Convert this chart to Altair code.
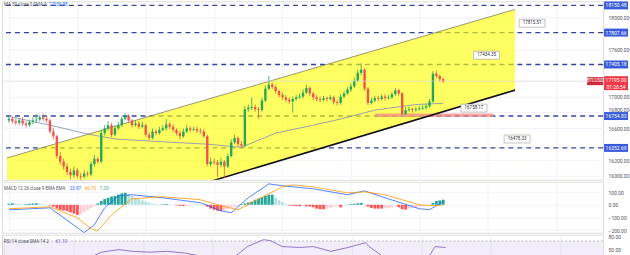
import altair as alt
import pandas as pd
import numpy as np

# ---------------- candles ----------------
opens = [16700,16720,16690,16670,16700,16660,16640,16680,16700,16710,
         16740,16720,16700,16560,16500,16250,16180,16120,16050,16010,
         16070,16000,15990,16030,16020,16150,16215,16180,16540,16600,
         16640,16520,16600,16640,16720,16760,16700,16640,16660,16620,
         16640,16520,16480,16560,16540,16580,16600,16650,16620,16580,
         16540,16500,16560,16600,16580,16590,16570,16560,16500,16150,
         16180,16170,16140,16180,16120,16250,16420,16480,16400,16380,
         16840,16860,16870,16840,16830,16950,17100,17150,17120,17070,
         17020,16990,16960,16940,16970,16990,17000,17050,17110,17040,
         16990,16970,16960,16980,16970,16990,16930,16920,17000,17040,
         17090,17130,17200,17300,17340,17100,16920,16950,16980,16970,
         17000,16980,16990,17030,17080,17040,16780,16830,16840,16830,
         16840,16850,16860,16880,16940,17290,17260,17220]
closes = [16720,16690,16670,16700,16660,16640,16680,16700,16710,16740,
          16720,16700,16560,16500,16250,16180,16120,16050,16010,16070,
          16000,15990,16030,16020,16150,16215,16180,16540,16600,16640,
          16520,16600,16640,16720,16760,16700,16640,16660,16620,16640,
          16520,16480,16560,16540,16580,16600,16650,16620,16580,16540,
          16500,16560,16600,16580,16590,16570,16560,16500,16150,16180,
          16170,16140,16180,16120,16250,16420,16480,16400,16380,16840,
          16860,16870,16840,16830,16950,17100,17150,17120,17070,17020,
          16990,16960,16940,16970,16990,17000,17050,17110,17040,16990,
          16970,16960,16980,16970,16990,16930,16920,17000,17040,17090,
          17130,17200,17300,17340,17100,16920,16950,16980,16970,17000,
          16980,16990,17030,17080,17040,16780,16830,16840,16830,16840,
          16850,16860,16880,16940,17290,17260,17220,17195]
highs = [16760,16750,16720,16730,16740,16690,16710,16740,16780,16770,
         16780,16750,16720,16600,16520,16300,16220,16160,16090,16120,
         16100,16040,16070,16060,16180,16260,16240,16580,16640,16690,
         16670,16640,16680,16750,16790,16780,16720,16700,16690,16680,
         16660,16550,16600,16590,16620,16640,16720,16680,16650,16600,
         16570,16600,16640,16630,16620,16620,16600,16590,16520,16230,
         16220,16200,16230,16200,16280,16460,16520,16500,16440,16880,
         16900,16990,16900,16870,16990,17140,17260,17180,17150,17090,
         17050,17020,16990,17000,17020,17040,17090,17150,17130,17060,
         17020,17000,17010,17000,17020,17010,16960,17030,17070,17120,
         17170,17240,17340,17420,17360,17120,16990,17010,17010,17030,
         17030,17020,17060,17110,17100,17060,16870,16870,16860,16870,
         16880,16890,16910,16970,17320,17330,17280,17240]
lows = [16670,16660,16640,16640,16630,16610,16620,16650,16670,16690,
        16690,16670,16530,16460,16220,16140,16080,16010,15960,15980,
        15970,15950,15970,15990,16000,16120,16150,16160,16510,16570,
        16490,16500,16580,16620,16700,16670,16610,16620,16590,16600,
        16490,16450,16460,16510,16520,16560,16570,16590,16550,16510,
        16460,16480,16540,16550,16560,16540,16530,16480,16120,16120,
        16140,15990,16110,15970,16100,16230,16400,16370,16350,16360,
        16810,16830,16810,16720,16810,16930,17080,17090,17040,16990,
        16960,16930,16910,16800,16950,16970,16980,17030,17010,16960,
        16940,16930,16940,16940,16950,16900,16890,16900,16980,17020,
        17060,17110,17180,17270,17070,16890,16900,16930,16940,16950,
        16950,16960,16970,17010,17010,16760,16770,16810,16800,16810,
        16820,16830,16840,16860,16920,17230,17190,17170]

# moving average (read at points)
ma_x = [0, 12, 23, 31, 45, 58, 68, 78, 88, 97, 107, 119, 127]
ma_y = [16750, 16640, 16528, 16465, 16430, 16400, 16360, 16540, 16630, 16717, 16830, 16900, 16915]

# horizontal levels
level_values = [18150.48, 17807.66, 17405.18, 16754.83, 16352.69]
level_labels = ["18150.48", "17807.66", "17405.18", "16754.83", "16352.69"]

# price axis tick labels that stay visible (others sit under the level boxes)
price_ticks = [16000, 16200, 16600, 16800, 17000, 17600, 18000]

# parallel channel
chan_x = [-0.57, 148.0]
chan_top = [16226, 18100]
chan_bot = [15161, 17082]

# support zone
zone_x = [107.1]
zone_x2 = [141.7]
zone_y = [16765]

# callouts
callout_x = [139.7, 153.0, 136.0, 148.6]
callout_y = [17522, 17925, 16855, 16465]
callout_text = ["17434.35", "17815.51", "16758.17", "16478.33"]

last_price = 17195.00

# ---------------- MACD ----------------
hist = [8,12,10,6,4,6,8,10,12,10,6,2,
        -5,-15,-30,-40,-45,-50,-60,-70,-80,-75,-55,-40,-25,-10,
        10,30,45,55,65,70,80,90,95,85,
        70,55,45,35,25,15,8,
        5,3,4,6,3,0,-4,
        -8,-10,-6,
        -3,-2,2,1,-2,
        -15,-30,-40,-47,-50,-45,-35,
        -25,-15,-8,
        3,10,18,25,
        40,50,60,70,78,80,
        55,35,20,8,
        -5,-8,-10,-12,-10,-12,-14,-20,
        -30,-35,-35,-30,-25,-15,
        -10,-20,-5,
        2,5,8,12,15,5,
        -15,-25,-30,-30,-30,-28,-25,-20,
        -5,
        -20,-35,-38,-30,
        -25,-20,-15,-10,-6,-2,
        15,30,35,40]
macd_x = [0, 12, 20, 22, 25, 28, 32, 36, 45, 56, 62, 65, 70, 76, 80, 89, 99, 104, 110, 120, 123, 127]
macd_y = [-40, -24, -180, -220, -157, -24, 70, 79, 55, 16, -47, -63, 55, 165, 150, 126, 79, 110, 55, -31, -39, 24]
sig_x = [0, 12, 20, 24, 26, 30, 36, 45, 56, 62, 67, 72, 80, 83, 89, 99, 104, 110, 120, 125, 127]
sig_y = [-31, -16, -102, -189, -205, -79, 47, 63, 40, -8, -39, 31, 142, 157, 142, 94, 102, 79, 0, -8, 0]

# ---------------- RSI ----------------
rsi_x = [0, 8, 24.6, 28, 33, 37, 42, 47, 52, 56.6, 57.4, 66, 70, 74.6, 76.6, 80, 85, 89,
         94, 99, 104, 105, 109, 113, 115, 118, 122, 124, 127]
rsi_y = [31, 32, 31, 44, 50, 46, 44, 46, 42, 35, 27, 31, 57, 73, 71, 57, 55, 57,
         46, 55, 66, 57, 34, 34, 27, 31, 31, 57, 55]

# ---------------- build ----------------
W = 603
GREEN = "#26a65b"
RED = "#ef5350"
FS = 5

xscale = alt.Scale(domain=[-0.57, 172.3], nice=False, zero=False)
xaxis = alt.Axis(labels=False, ticks=False, domain=False, title=None, grid=True,
                 gridColor="#f0f3fa", tickCount=12)


def X(f):
    return alt.X(f, type="quantitative", scale=xscale, axis=xaxis)


idx = list(range(len(closes)))
cd = pd.DataFrame({"i": idx, "o": opens, "h": highs, "l": lows, "c": closes})
cd["col"] = np.where(cd["c"] >= cd["o"], GREEN, RED)

pscale = alt.Scale(domain=[15950, 18201], nice=False, zero=False)
paxis = alt.Axis(orient="right", values=price_ticks, format=".2f",
                 labelFontSize=FS, labelColor="#50535e", ticks=False, domain=False,
                 grid=True, gridColor="#f0f3fa", title=None, labelPadding=5,
                 labelOffset={"expr": "datum.value == 16800 ? -3 : 0"})


def PY(f):
    return alt.Y(f, type="quantitative", scale=pscale, axis=paxis)


lv = pd.DataFrame({"v": level_values, "t": level_labels})
levels = alt.Chart(lv).mark_rule(strokeDash=[5, 4], strokeWidth=1.4, color="#34449a").encode(y=PY("v"))

ch = pd.DataFrame({"x": chan_x, "top": chan_top, "bot": chan_bot})
chan_area = alt.Chart(ch).mark_area(color="#ffff00", opacity=0.62, clip=True).encode(
    x=X("x"), y=PY("bot"), y2="top")
chan_topline = alt.Chart(ch).mark_line(color="#7d7d55", strokeWidth=0.8, clip=True).encode(x=X("x"), y=PY("top"))
chan_botline = alt.Chart(ch).mark_line(color="#111111", strokeWidth=1.6, clip=True).encode(x=X("x"), y=PY("bot"))

zd = pd.DataFrame({"x": zone_x, "x2": zone_x2, "y": zone_y})
zone = alt.Chart(zd).mark_rule(color="#f08a80", strokeWidth=3.5, opacity=0.75).encode(
    x=X("x"), x2="x2", y=PY("y"))

mad = pd.DataFrame({"x": ma_x, "y": ma_y})
ma = alt.Chart(mad).mark_line(color="#8d98b0", strokeWidth=0.9).encode(x=X("x"), y=PY("y"))

wicks = alt.Chart(cd).mark_rule(strokeWidth=0.8).encode(
    x=X("i"), y=PY("l"), y2="h", color=alt.Color("col:N", scale=None))
bodies = alt.Chart(cd).mark_bar(size=2.4).encode(
    x=X("i"), y=PY("o"), y2="c", color=alt.Color("col:N", scale=None))

lp = pd.DataFrame({"v": [last_price], "t": ["17195.00\n01:28:54"], "s": ["BTCUSD"]})
pline = alt.Chart(lp).mark_rule(color="#d6d6d6", strokeWidth=0.7).encode(y=PY("v"))

co = pd.DataFrame({"x": callout_x, "y": callout_y, "t": callout_text})
co_box = alt.Chart(co).mark_tick(orient="horizontal", size=26, thickness=8, color="white",
                                 stroke="#9a9a9a", strokeWidth=0.6, opacity=1).encode(x=X("x"), y=PY("y"))
co_txt = alt.Chart(co).mark_text(fontSize=4.5, color="#333333").encode(x=X("x"), y=PY("y"), text="t:N")

lvl_box = alt.Chart(lv).mark_tick(orient="horizontal", size=24, thickness=8, color="#3a5bd9",
                                  opacity=1).encode(x=alt.value(616), y=PY("v"))
lvl_txt = alt.Chart(lv).mark_text(fontSize=FS, color="white").encode(
    x=alt.value(616), y=PY("v"), text="t:N")

red_box = alt.Chart(lp).mark_tick(orient="horizontal", size=24, thickness=14, color="#f23645",
                                  opacity=1, yOffset=2).encode(x=alt.value(616), y=PY("v"))
red_txt = alt.Chart(lp).mark_text(fontSize=FS, color="white", lineBreak="\n", dy=-1).encode(
    x=alt.value(616), y=PY("v"), text="t:N")
sym_box = alt.Chart(lp).mark_tick(orient="horizontal", size=16, thickness=8, color="#d0293b",
                                  opacity=1).encode(x=alt.value(595), y=PY("v"))
sym_txt = alt.Chart(lp).mark_text(fontSize=4.5, color="white").encode(
    x=alt.value(595), y=PY("v"), text="s:N")

one = pd.DataFrame({"a": [0]})
leg1 = alt.Chart(one).mark_text(align="left", fontSize=4.5, color="#50535e").encode(
    x=alt.value(2), y=alt.value(4), text=alt.value("MA 50 close 0 SMA 9"))
leg1b = alt.Chart(one).mark_text(align="left", fontSize=4.5, color="#2962ff").encode(
    x=alt.value(47), y=alt.value(4), text=alt.value("17056.88"))

price = alt.layer(levels, chan_area, zone, ma, chan_topline, chan_botline, wicks, bodies,
                  pline, co_box, co_txt, sym_box, sym_txt, lvl_box, lvl_txt, red_box, red_txt,
                  leg1, leg1b).properties(width=W, height=179)

# MACD panel
hv = np.array(hist, dtype=float)
prev = np.concatenate([[hv[0]], hv[:-1]])
hcol = np.where(hv >= 0, np.where(hv >= prev, "#26a69a", "#b2dfdb"),
                np.where(hv <= prev, "#ff5252", "#ffcdd2"))
hd = pd.DataFrame({"i": idx, "h": hist, "col": hcol, "z": 0})
mscale = alt.Scale(domain=[-220, 181], nice=False, zero=False)
maxis = alt.Axis(orient="right", values=[-200, -100, 0, 100], format=".2f", labelFontSize=FS,
                 labelColor="#50535e", ticks=False, domain=False, grid=True, gridColor="#f0f3fa",
                 title=None, labelPadding=5)


def MY(f):
    return alt.Y(f, type="quantitative", scale=mscale, axis=maxis)


hbars = alt.Chart(hd).mark_bar(size=2.8).encode(x=X("i"), y=MY("h"), y2="z",
                                                color=alt.Color("col:N", scale=None))
md = pd.DataFrame({"x": macd_x, "y": macd_y})
sd = pd.DataFrame({"x": sig_x, "y": sig_y})
mline = alt.Chart(md).mark_line(color="#2962ff", strokeWidth=0.8, clip=True).encode(x=X("x"), y=MY("y"))
sline = alt.Chart(sd).mark_line(color="#ff9800", strokeWidth=0.8, clip=True).encode(x=X("x"), y=MY("y"))
leg2 = alt.Chart(one).mark_text(align="left", fontSize=4.5, color="#50535e").encode(
    x=alt.value(2), y=alt.value(7), text=alt.value("MACD 12 26 close 9 EMA EMA"))
leg2b = alt.Chart(one).mark_text(align="left", fontSize=4.5, color="#2962ff").encode(
    x=alt.value(68), y=alt.value(7), text=alt.value("23.97"))
leg2c = alt.Chart(one).mark_text(align="left", fontSize=4.5, color="#ff9800").encode(
    x=alt.value(83), y=alt.value(7), text=alt.value("66.79"))
leg2d = alt.Chart(one).mark_text(align="left", fontSize=4.5, color="#26a69a").encode(
    x=alt.value(98), y=alt.value(7), text=alt.value("1.20"))
macd = alt.layer(hbars, mline, sline, leg2, leg2b, leg2c, leg2d).properties(width=W, height=51)

# RSI panel
rscale = alt.Scale(domain=[26.9, 84.6], nice=False, zero=False)
raxis = alt.Axis(orient="right", values=[50, 80], format=".2f", labelFontSize=FS,
                 labelColor="#50535e", ticks=False, domain=False, grid=False, title=None, labelPadding=5)


def RY(f):
    return alt.Y(f, type="quantitative", scale=rscale, axis=raxis)


band = alt.Chart(pd.DataFrame({"lo": [30], "hi": [70]})).mark_rect(color="#7e57c2", opacity=0.1).encode(
    y=RY("lo"), y2="hi")
bandl = alt.Chart(pd.DataFrame({"v": [30, 70]})).mark_rule(color="#9598a1", strokeDash=[2, 2],
                                                          strokeWidth=0.6).encode(y=RY("v"))
rd = pd.DataFrame({"x": rsi_x, "y": rsi_y})
rline = alt.Chart(rd).mark_line(color="#7e57c2", strokeWidth=0.8, clip=True).encode(x=X("x"), y=RY("y"))
leg3 = alt.Chart(one).mark_text(align="left", fontSize=4.5, color="#50535e").encode(
    x=alt.value(2), y=alt.value(7), text=alt.value("RSI 14 close SMA 14 2"))
leg3b = alt.Chart(one).mark_text(align="left", fontSize=4.5, color="#7e57c2").encode(
    x=alt.value(54), y=alt.value(7), text=alt.value("61.19"))
rsi = alt.layer(band, bandl, rline, leg3, leg3b).properties(width=W, height=25)

chart = alt.vconcat(price, macd, rsi, spacing=0).properties(padding=0).configure_view(
    stroke=None).configure_concat(spacing=0).configure(font="Roboto")

chart.save("out.html", embed_options={"renderer": "svg", "actions": False})
